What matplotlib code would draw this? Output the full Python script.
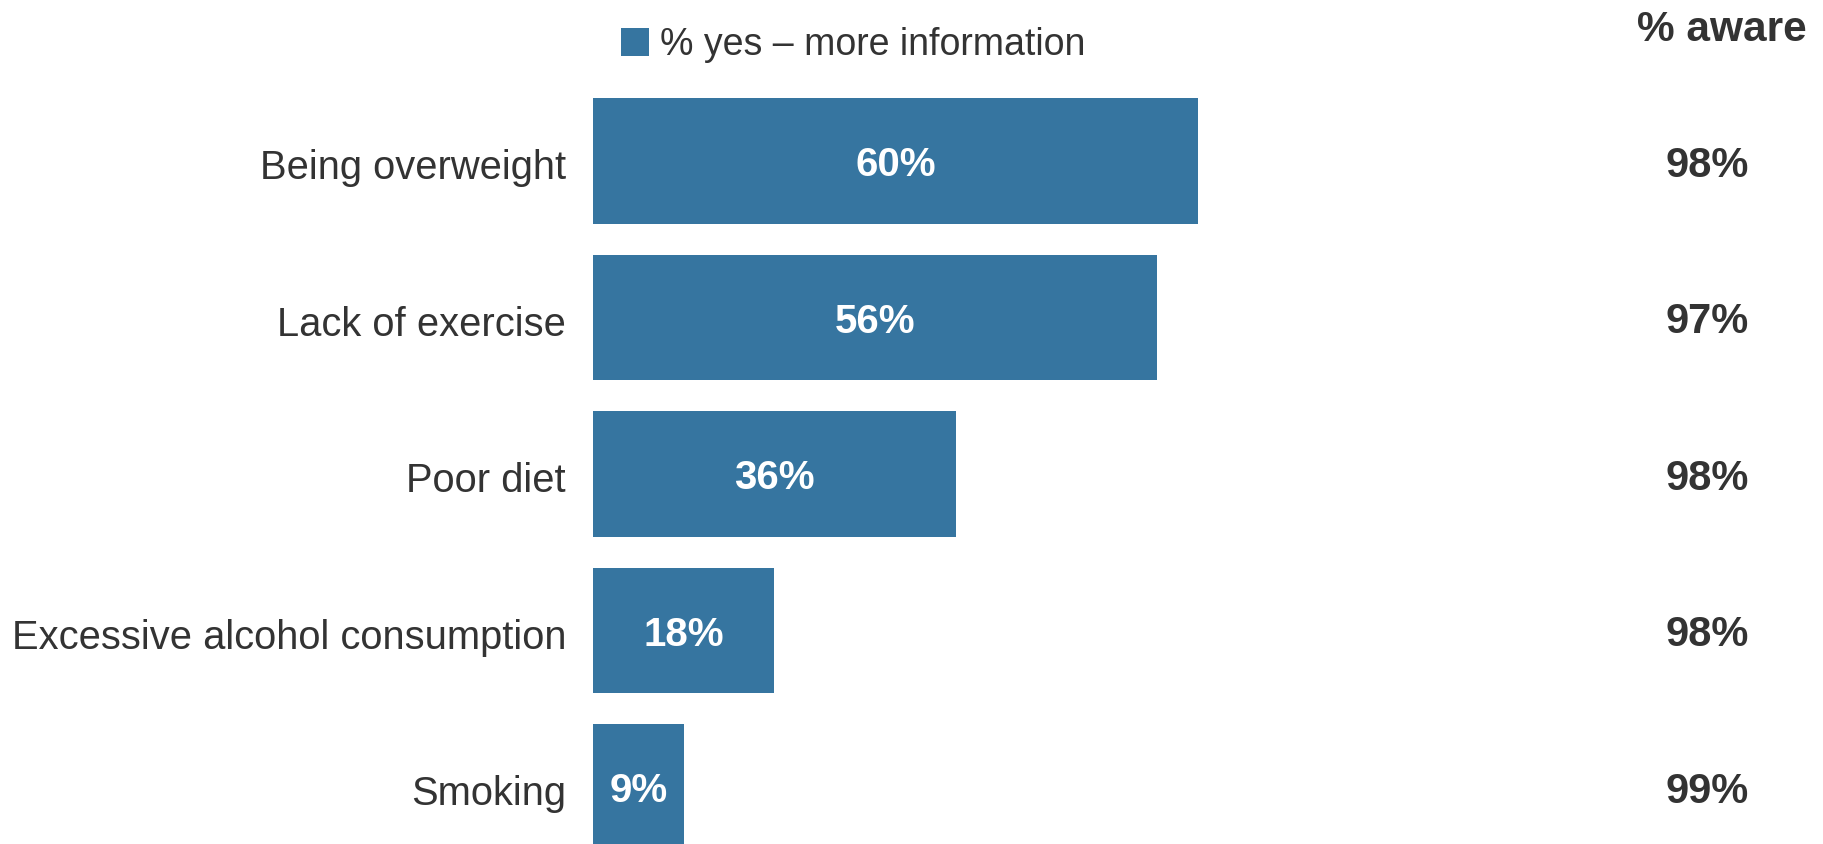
import matplotlib
matplotlib.use("Agg")
import matplotlib.pyplot as plt

# ----------------------------
# Data
# ----------------------------
categories = ["Being overweight", "Lack of exercise", "Poor diet",
              "Excessive alcohol consumption", "Smoking"]
more_info = [60, 56, 36, 18, 9]
aware = [98, 97, 98, 98, 99]

BAR_COLOR = "#3675a0"
TEXT_COLOR = "#333333"

plt.rcParams["font.family"] = ["Liberation Sans", "DejaVu Sans"]

# ----------------------------
# Figure
# ----------------------------
fig = plt.figure(figsize=(18.24, 8.44), dpi=100)
ax = fig.add_axes([593 / 1824, 0, 1008 / 1824, 1])

ypos = list(range(len(categories)))
bars = ax.barh(ypos, more_info, height=0.8, color=BAR_COLOR,
               label="% yes – more information")

ax.set_xlim(0, 100)
ax.set_ylim(4.364, -1.029)
ax.set_xticks([])
ax.set_yticks([])
for s in ax.spines.values():
    s.set_visible(False)

# baseline offset (data units) so that digits/caps sit centred on the bar
base = 0.097

# category labels
for y, c in zip(ypos, categories):
    ax.text(-27 / 1008, y + base + 0.02, c, transform=ax.get_yaxis_transform(),
            ha="right", va="baseline", fontsize=28.7, color=TEXT_COLOR)

# values inside the bars
for bar, v in zip(bars, more_info):
    ax.text(bar.get_x() + bar.get_width() / 2, bar.get_y() + bar.get_height() / 2 + base,
            f"{v}%", ha="center", va="baseline", color="white",
            fontsize=29, fontweight="bold")

# % aware column on the right
aware_x = (1707 - 593) / 1008 * 100
for y, a in zip(ypos, aware):
    ax.text(aware_x, y + base + 0.003, f"{a}%", ha="center", va="baseline",
            color=TEXT_COLOR, fontsize=30, fontweight="bold", clip_on=False)
fig.text(1722 / 1824, 1 - 40.7 / 844, "% aware", ha="center", va="baseline",
         color=TEXT_COLOR, fontsize=30.5, fontweight="bold")

# legend
leg = ax.legend(loc="center left", bbox_to_anchor=(621 / 1824, 1 - 45 / 844),
                bbox_transform=fig.transFigure, frameon=False, fontsize=27,
                handlelength=0.75, handleheight=0.8, handletextpad=0.3,
                borderpad=0, borderaxespad=0)
for t in leg.get_texts():
    t.set_color(TEXT_COLOR)

fig.savefig("out.png", dpi=100)
